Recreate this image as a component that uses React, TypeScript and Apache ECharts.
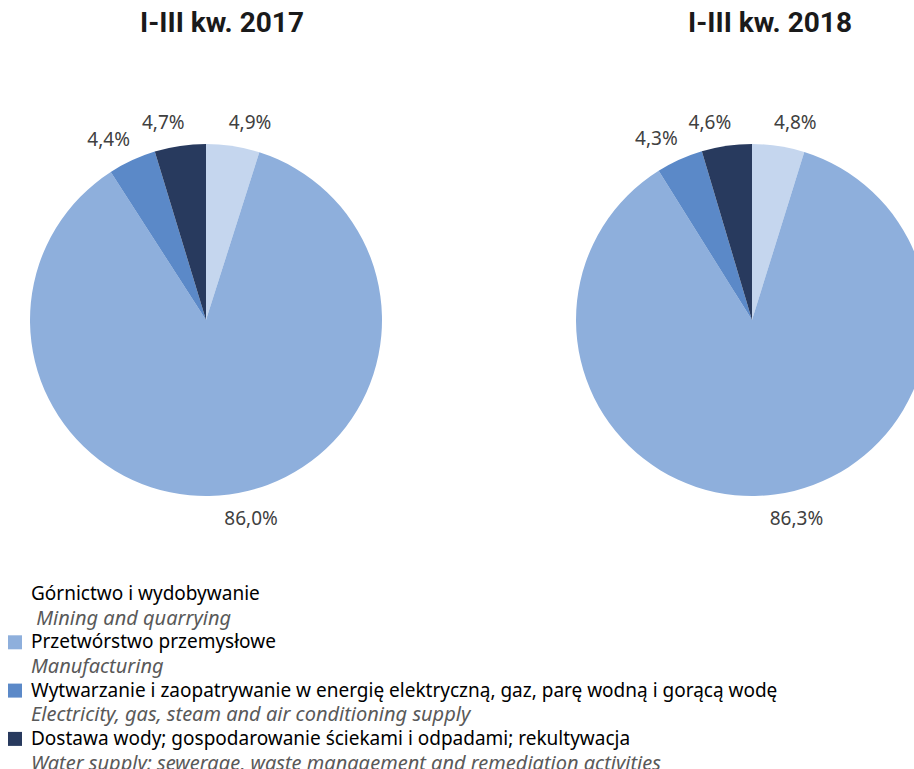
import { useEffect, useRef } from 'react';
import * as echarts from 'echarts';

const categoriesPl = [
  'Górnictwo i wydobywanie',
  'Przetwórstwo przemysłowe',
  'Wytwarzanie i zaopatrywanie w energię elektryczną, gaz, parę wodną i gorącą wodę',
  'Dostawa wody; gospodarowanie ściekami i odpadami; rekultywacja',
];
const categoriesEn = [
  ' Mining and quarrying',
  'Manufacturing',
  'Electricity, gas, steam and air conditioning supply',
  'Water supply; sewerage, waste management and remediation activities',
];
const values2017 = [4.9, 86.0, 4.4, 4.7];
const values2018 = [4.8, 86.3, 4.3, 4.6];
const titles = ['I-III kw. 2017', 'I-III kw. 2018'];
const colors = ['#c5d6ee', '#8eafdc', '#5b89c8', '#283a5e'];
const legendMarkerVisible = [false, true, true, true];

const FONT = '"Noto Sans", "Open Sans", sans-serif';

export default function App() {
  const ref = useRef<HTMLDivElement>(null);
  useEffect(() => {
    if (!ref.current) return;
    const chart = echarts.init(ref.current, undefined, { renderer: 'svg' });

    const makeSeries = (vals: number[], cx: number) => ({
      type: 'pie',
      center: [cx, 320],
      radius: 176,
      startAngle: 90,
      clockwise: true,
      avoidLabelOverlap: false,
      emphasis: { disabled: true },
      itemStyle: { borderWidth: 0 },
      label: {
        show: true,
        position: 'outside',
        color: '#404040',
        fontSize: 19,
        fontFamily: FONT,
        distanceToLabelLine: -8,
        formatter: (p: any) => p.value.toFixed(1).replace('.', ',') + '%',
      },
      labelLine: { show: false, length: 24, length2: 0 },
      data: vals.map((v, i) => ({ name: categoriesPl[i], value: v, itemStyle: { color: colors[i] } })),
    });

    const lineStep = 24.15;
    const firstLineY = 593;
    const legendEls: any[] = [];
    categoriesPl.forEach((name, i) => {
      const yPl = firstLineY + i * 2 * lineStep;
      const yEn = yPl + lineStep;
      if (legendMarkerVisible[i]) {
        legendEls.push({
          type: 'rect',
          shape: { x: 8, y: yPl - 6, width: 14, height: 14 },
          style: { fill: colors[i] },
        });
      }
      legendEls.push({
        type: 'text',
        x: 31,
        y: yPl,
        style: { text: name, fill: '#000000', font: `19px ${FONT}`, verticalAlign: 'middle', align: 'left' },
      });
      legendEls.push({
        type: 'text',
        x: 31,
        y: yEn,
        style: {
          text: categoriesEn[i],
          fill: '#595959',
          font: `italic 20px ${FONT}`,
          verticalAlign: 'middle',
          align: 'left',
        },
      });
    });

    const titleStyle = { fontFamily: 'Roboto, "Noto Sans", sans-serif', fontWeight: 'bold', fontSize: 28, color: '#1a1a1a' };

    chart.setOption({
      animation: false,
      backgroundColor: '#ffffff',
      title: [
        { text: titles[0], left: 217, top: 3, textAlign: 'center', textStyle: titleStyle },
        { text: titles[1], left: 765, top: 3, textAlign: 'center', textStyle: titleStyle },
      ],
      series: [makeSeries(values2017, 206), makeSeries(values2018, 752)],
      graphic: legendEls,
    });
    return () => chart.dispose();
  }, []);
  return <div ref={ref} style={{ position: 'fixed', left: 0, top: 0, width: 914, height: 769 }} />;
}
